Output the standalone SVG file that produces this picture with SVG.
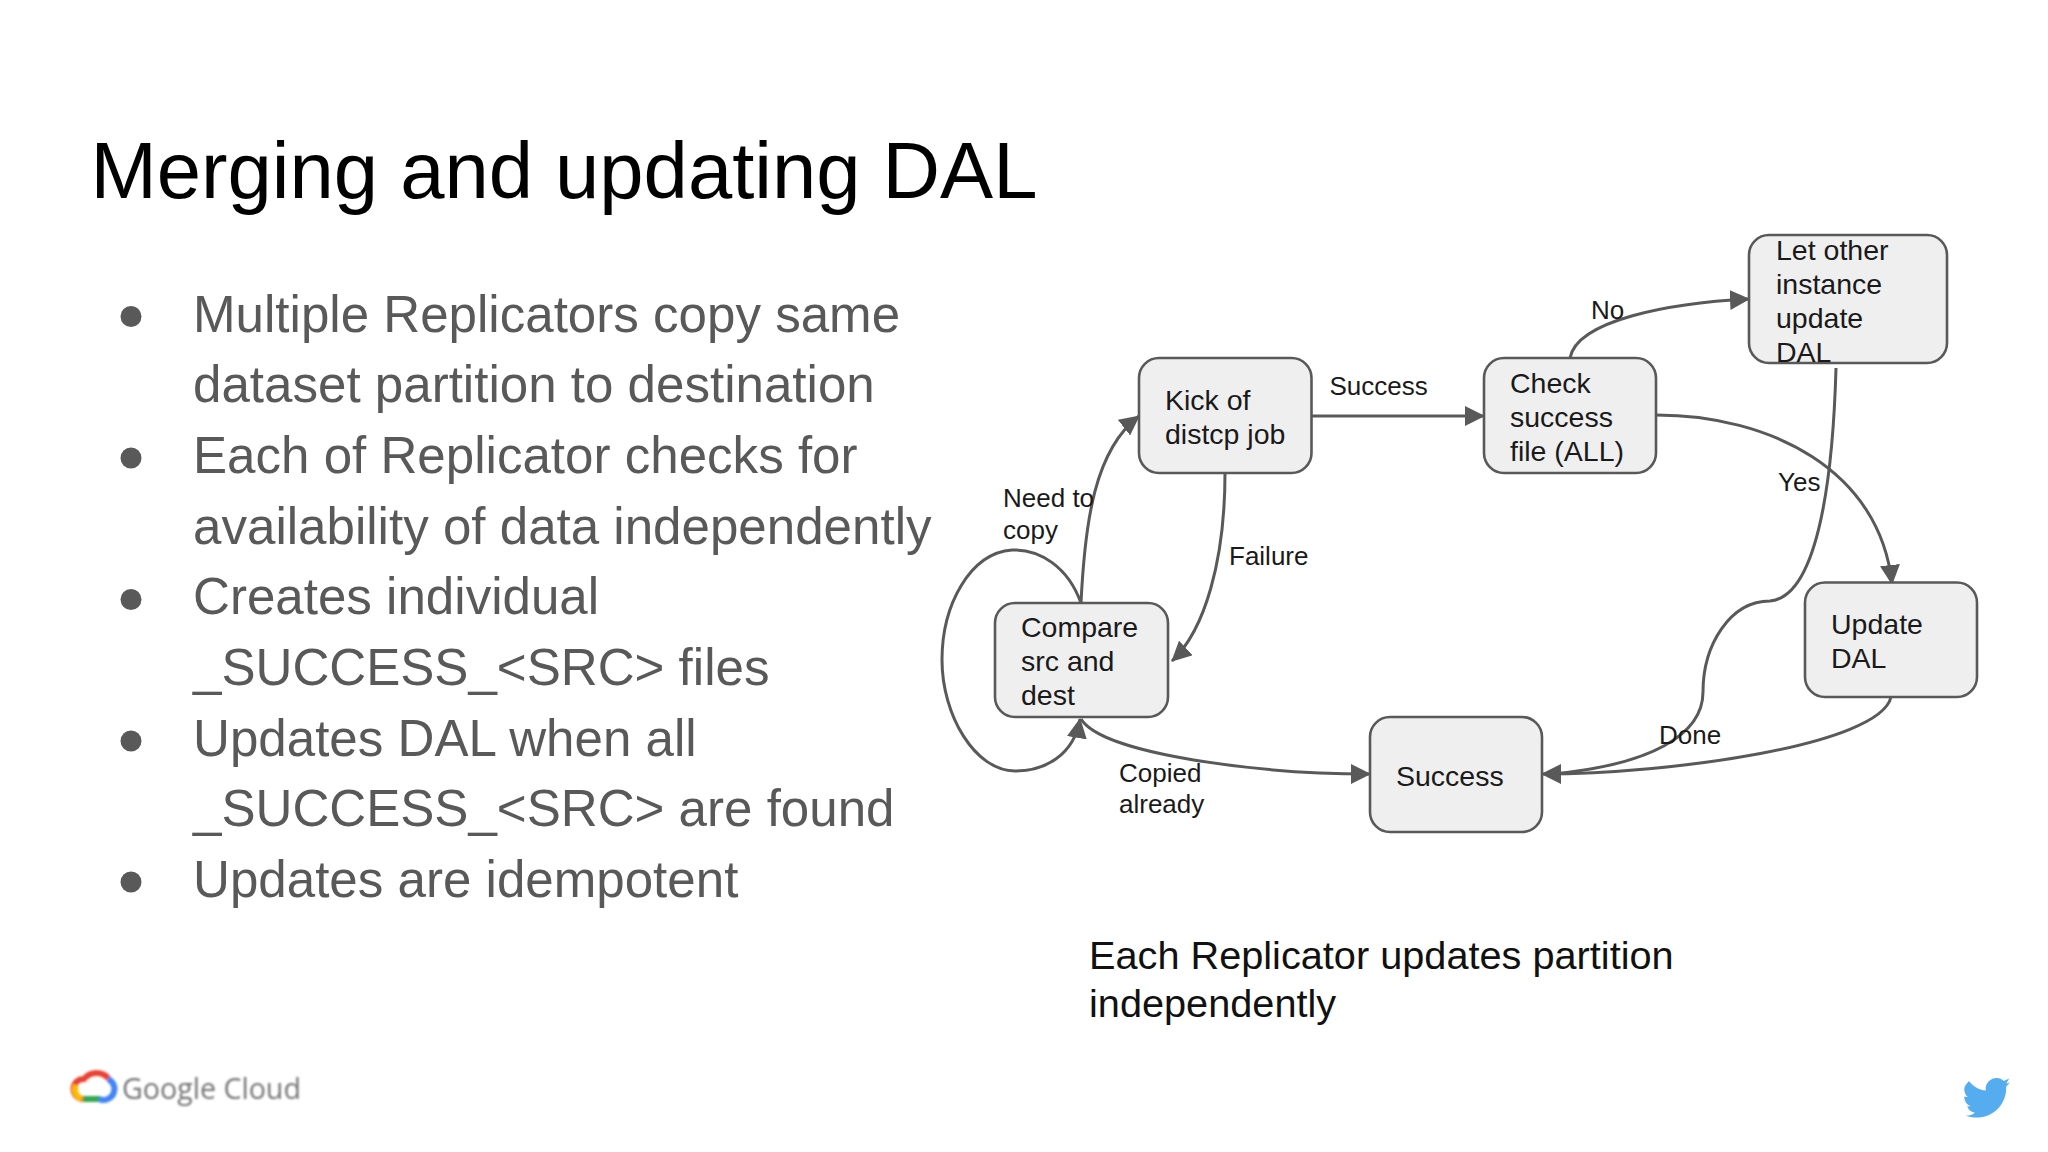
<svg xmlns="http://www.w3.org/2000/svg" width="2048" height="1152" viewBox="0 0 2048 1152">
<defs>
<style>
text{font-family:"Liberation Sans",Arial,sans-serif}
.title{font-size:79.6px;fill:#000}
.body{font-size:51.1px;fill:#595959}
.node{fill:#efefef;stroke:#595959;stroke-width:2.6}
.nt{font-size:28.5px;fill:#1a1a1a}
.lb{font-size:26px;fill:#1a1a1a}
.edge{fill:none;stroke:#595959;stroke-width:3}
.cap{font-size:39.7px;fill:#111}
</style>
<marker id="arr" markerUnits="userSpaceOnUse" markerWidth="22" markerHeight="20" refX="19" refY="10" orient="auto"><path d="M0 0L20 10L0 20Z" fill="#595959"/></marker>
<filter id="soft" x="-10%" y="-10%" width="120%" height="120%"><feGaussianBlur stdDeviation="0.9"/></filter>
</defs>
<rect width="2048" height="1152" fill="#fff"/>
<text class="title" x="90.500" y="197.500">Merging and updating DAL</text>
<g id="bullets">
<circle cx="131" cy="316.500" r="10.500" fill="#595959"/>
<circle cx="131" cy="458" r="10.500" fill="#595959"/>
<circle cx="131" cy="599.500" r="10.500" fill="#595959"/>
<circle cx="131" cy="741" r="10.500" fill="#595959"/>
<circle cx="131" cy="882" r="10.500" fill="#595959"/>
<text class="body" x="193" y="331.500">Multiple Replicators copy same</text>
<text class="body" x="193" y="402">dataset partition to destination</text>
<text class="body" x="193" y="473">Each of Replicator checks for</text>
<text class="body" x="193" y="543.500">availability of data independently</text>
<text class="body" x="193" y="614">Creates individual</text>
<text class="body" x="193" y="685">_SUCCESS_&lt;SRC&gt; files</text>
<text class="body" x="193" y="755.500">Updates DAL when all</text>
<text class="body" x="193" y="826">_SUCCESS_&lt;SRC&gt; are found</text>
<text class="body" x="193" y="896.500">Updates are idempotent</text>
</g>
<g id="connectors">
<path class="edge" marker-end="url(#arr)" d="M1081 603C1085 520 1095 450 1139 416"/>
<path class="edge" marker-end="url(#arr)" d="M1225 473C1225 560 1205 630 1172 661"/>
<path class="edge" marker-end="url(#arr)" d="M1311 416L1484 416"/>
<path class="edge" marker-end="url(#arr)" d="M1570 358C1577 320 1670 303 1749 299"/>
<path class="edge" marker-end="url(#arr)" d="M1656 415C1770 415 1880 470 1892 584"/>
<path class="edge" marker-end="url(#arr)" d="M1891 697C1880 745 1670 774 1542 774"/>
<path class="edge" d="M1836 368C1834 440 1825 596 1770 601C1730 601 1703 645 1703 692C1703 735 1650 765 1552 774"/>
<path class="edge" marker-end="url(#arr)" d="M1081 719C1103 755 1263 774 1370 774"/>
<path class="edge" marker-end="url(#arr)" d="M1081 603C1068 567 1040 549 1012 550C970 553 942 605 942 660C942 715 975 771 1015 771C1045 771 1074 755 1080 719"/>
</g>
<g id="edge-labels">
<text class="lb" x="1329.500" y="395.400">Success</text>
<text class="lb" x="1591" y="319.400">No</text>
<text class="lb" x="1778" y="491.400">Yes</text>
<text class="lb" x="1659" y="744">Done</text>
<text class="lb" x="1229" y="565.400">Failure</text>
<text class="lb" x="1003" y="507.400">Need to</text>
<text class="lb" x="1003" y="539.400">copy</text>
<text class="lb" x="1119" y="782">Copied</text>
<text class="lb" x="1119" y="813">already</text>
</g>
<g id="node-kick"><rect class="node" x="1139" y="358" width="172.500" height="115" rx="20"/>
<text class="nt" x="1165" y="409.500">Kick of</text><text class="nt" x="1165" y="443.500">distcp job</text></g>
<g id="node-check"><rect class="node" x="1484" y="358" width="172" height="115" rx="20"/>
<text class="nt" x="1510" y="393">Check</text><text class="nt" x="1510" y="427">success</text><text class="nt" x="1510" y="461">file (ALL)</text></g>
<g id="node-other"><rect class="node" x="1749" y="235" width="198" height="128" rx="20"/>
<text class="nt" x="1776" y="260">Let other</text><text class="nt" x="1776" y="294">instance</text><text class="nt" x="1776" y="328">update</text><text class="nt" x="1776" y="362">DAL</text></g>
<g id="node-compare"><rect class="node" x="995" y="603" width="173" height="114" rx="20"/>
<text class="nt" x="1021" y="637">Compare</text><text class="nt" x="1021" y="671">src and</text><text class="nt" x="1021" y="705">dest</text></g>
<g id="node-update"><rect class="node" x="1805" y="582.500" width="172" height="114.500" rx="20"/>
<text class="nt" x="1831" y="634">Update</text><text class="nt" x="1831" y="668">DAL</text></g>
<g id="node-success"><rect class="node" x="1370" y="717" width="172" height="115" rx="20"/>
<text class="nt" x="1396" y="786">Success</text></g>
<text class="cap" x="1089" y="969">Each Replicator updates partition</text>
<text class="cap" x="1089" y="1017">independently</text>
<g id="google-cloud" filter="url(#soft)">
<path d="M83 1099a10 10 0 0 1 1-20 16 16 0 0 1 25 0" fill="none" stroke="#ea4335" stroke-width="6"/>
<path d="M82 1099a10 10 0 0 1-6-14" fill="none" stroke="#fbbc04" stroke-width="6"/>
<path d="M83 1099h17" fill="none" stroke="#34a853" stroke-width="6"/>
<path d="M99 1099a10 10 0 0 0 9-20" fill="none" stroke="#4285f4" stroke-width="6"/>
<text x="122" y="1099" font-size="28.600" fill="#757575" style="font-family:'Open Sans',sans-serif">Google Cloud</text>
</g>
<g id="twitter"><path fill="#55acee" transform="translate(1960,1078) scale(0.6) translate(-1958,-1077)" d="M1973 1082c7 9 16 15 28 16-2-13 9-21 18-21 5 0 9 2 12 5l9-4-5 8 6-1-6 6c1 28-20 52-50 52-6 0-12-1-17-3 6 0 11-2 15-5-6-1-11-5-13-11h6c-7-2-11-9-11-16l6 1c-6-5-8-15-3-21z"/></g>
</svg>
